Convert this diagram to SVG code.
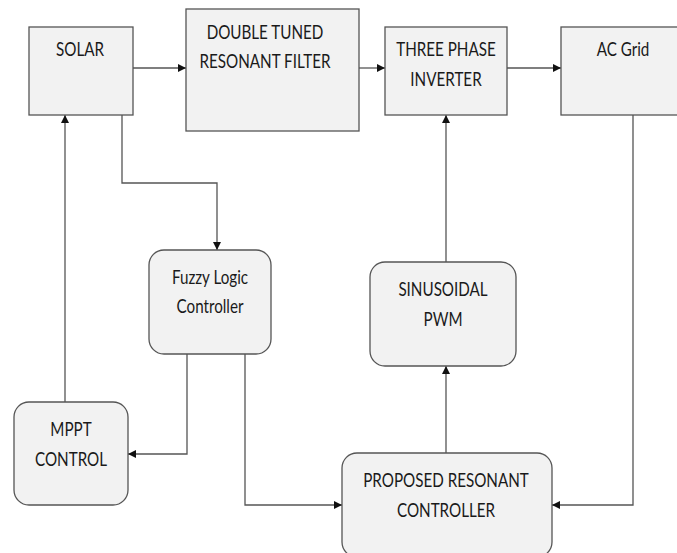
<svg xmlns="http://www.w3.org/2000/svg" width="677" height="553" viewBox="0 0 677 553">
<style>
.box{fill:#f2f2f2;stroke:#555;stroke-width:1.3}
.t{font-family:Lato,"Open Sans",sans-serif;font-size:19px;fill:#1a1a1a;text-anchor:middle}
.c{fill:none;stroke:#555;stroke-width:1.3}
</style>
<defs>
<marker id="ah" viewBox="0 0 10 10" refX="10" refY="5" markerWidth="8" markerHeight="8" markerUnits="userSpaceOnUse" orient="auto">
<path d="M0,0 L10,5 L0,10 z" fill="#111"/>
</marker>
</defs>
<rect width="677" height="553" fill="#fff"/>
<g id="connectors">
<path class="c" d="M133,68 H186" marker-end="url(#ah)"/>
<path class="c" d="M359,68 H385" marker-end="url(#ah)"/>
<path class="c" d="M507,68 H561" marker-end="url(#ah)"/>
<path class="c" d="M122,115 V183 H217 V250" marker-end="url(#ah)"/>
<path class="c" d="M65,402 V115" marker-end="url(#ah)"/>
<path class="c" d="M187,354 V454 H128" marker-end="url(#ah)"/>
<path class="c" d="M245,354 V505 H342" marker-end="url(#ah)"/>
<path class="c" d="M446,453 V366" marker-end="url(#ah)"/>
<path class="c" d="M446,262 V115" marker-end="url(#ah)"/>
<path class="c" d="M633,115 V505 H552" marker-end="url(#ah)"/>
</g>
<g id="solar">
<rect class="box" x="29" y="27" width="104" height="88"/>
<text class="t" transform="translate(80,56) scale(0.8,1)">SOLAR</text>
</g>
<g id="filter">
<rect class="box" x="186" y="9" width="173" height="122"/>
<text class="t" transform="translate(265,39) scale(0.8,1)">DOUBLE TUNED</text>
<text class="t" transform="translate(265,68) scale(0.8,1)">RESONANT FILTER</text>
</g>
<g id="inverter">
<rect class="box" x="385" y="27" width="122" height="88"/>
<text class="t" transform="translate(446,56) scale(0.8,1)">THREE PHASE</text>
<text class="t" transform="translate(446,86) scale(0.8,1)">INVERTER</text>
</g>
<g id="grid">
<rect class="box" x="561" y="27" width="120" height="88"/>
<text class="t" transform="translate(623,56) scale(0.8,1)">AC Grid</text>
</g>
<g id="fuzzy">
<rect class="box" x="149" y="250" width="122" height="104" rx="15"/>
<text class="t" transform="translate(210,284) scale(0.8,1)">Fuzzy Logic</text>
<text class="t" transform="translate(210,313) scale(0.8,1)">Controller</text>
</g>
<g id="mppt">
<rect class="box" x="14" y="402" width="114" height="103" rx="15"/>
<text class="t" transform="translate(71,436) scale(0.8,1)">MPPT</text>
<text class="t" transform="translate(71,466) scale(0.8,1)">CONTROL</text>
</g>
<g id="spwm">
<rect class="box" x="370" y="262" width="146" height="104" rx="15"/>
<text class="t" transform="translate(443,296) scale(0.8,1)">SINUSOIDAL</text>
<text class="t" transform="translate(443,326) scale(0.8,1)">PWM</text>
</g>
<g id="resonant">
<rect class="box" x="342" y="453" width="210" height="104" rx="15"/>
<text class="t" transform="translate(446,487) scale(0.8,1)">PROPOSED RESONANT</text>
<text class="t" transform="translate(446,517) scale(0.8,1)">CONTROLLER</text>
</g>
</svg>
